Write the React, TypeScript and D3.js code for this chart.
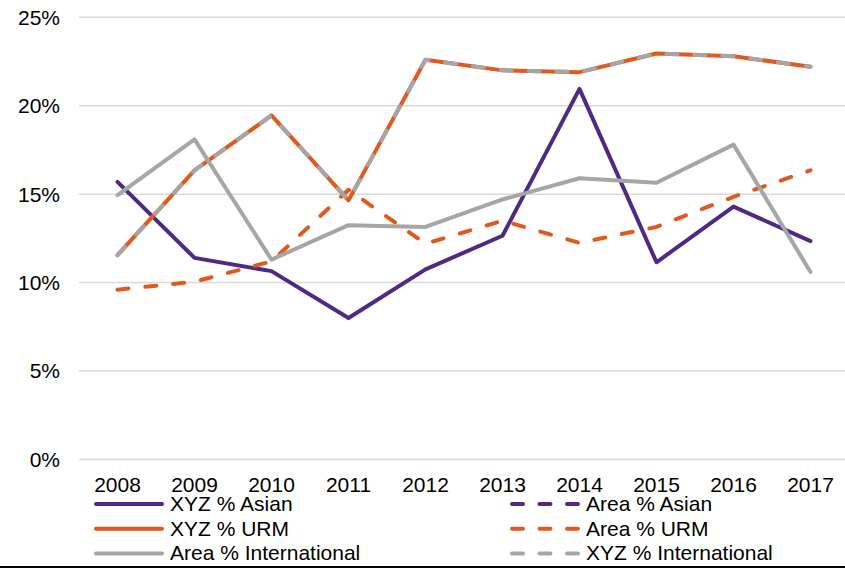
import React, { useEffect, useRef } from 'react';
import * as d3 from 'd3';

const years = ['2008', '2009', '2010', '2011', '2012', '2013', '2014', '2015', '2016', '2017'];
const yTicks = [0, 5, 10, 15, 20, 25];

const xyzAsian = [15.7, 11.4, 10.65, 8.0, 10.75, 12.65, 20.95, 11.15, 14.3, 12.35];
const areaAsian: (number | null)[] = [null, null, null, null, null, null, null, null, null, null];
const xyzUrm = [11.55, 16.35, 19.45, 14.65, 22.6, 22.0, 21.9, 22.95, 22.8, 22.2];
const areaUrm = [9.6, 10.05, 11.2, 15.25, 12.2, 13.5, 12.25, 13.15, 14.85, 16.35];
const areaIntl = [14.95, 18.1, 11.3, 13.25, 13.15, 14.7, 15.9, 15.65, 17.8, 10.6];
const xyzIntl = [11.55, 16.35, 19.45, 14.65, 22.6, 22.0, 21.9, 22.95, 22.8, 22.2];

const PURPLE = '#4e2a84';
const ORANGE = '#e05a1e';
const GRAY = '#a6a6a6';

const series = [
  { name: 'XYZ % Asian', values: xyzAsian, color: PURPLE, dashed: false },
  { name: 'Area % Asian', values: areaAsian, color: PURPLE, dashed: true },
  { name: 'XYZ % URM', values: xyzUrm, color: ORANGE, dashed: false },
  { name: 'Area % URM', values: areaUrm, color: ORANGE, dashed: true },
  { name: 'Area % International', values: areaIntl, color: GRAY, dashed: false },
  { name: 'XYZ % International', values: xyzIntl, color: GRAY, dashed: true },
];

const W = 845;
const H = 569;
const FONT = '"Liberation Sans", Arial, sans-serif';

const App = () => {
  const svgRef = useRef(null);

  useEffect(() => {
    const svg = d3.select(svgRef.current);
    svg.selectAll('*').remove();

    const margin = { top: 17.3, left: 79, right: -4, bottom: 109.5 };
    const x = d3.scaleBand().domain(years).range([margin.left, W - margin.right]);
    const y = d3.scaleLinear().domain([0, 25]).range([H - margin.bottom, margin.top]);

    // gridlines + y labels
    const grid = svg.append('g');
    grid.selectAll('line')
      .data(yTicks)
      .join('line')
      .attr('x1', margin.left)
      .attr('x2', W)
      .attr('y1', d => y(d))
      .attr('y2', d => y(d))
      .attr('stroke', '#d9d9d9')
      .attr('stroke-width', 1.5);
    grid.selectAll('text')
      .data(yTicks)
      .join('text')
      .attr('x', 60)
      .attr('y', d => y(d))
      .attr('dy', '0.35em')
      .attr('text-anchor', 'end')
      .style('font-family', FONT)
      .style('font-size', '21px')
      .style('fill', '#000')
      .text(d => `${d}%`);

    // x labels
    svg.append('g')
      .selectAll('text')
      .data(years)
      .join('text')
      .attr('x', d => x(d) + x.bandwidth() / 2)
      .attr('y', 492)
      .attr('text-anchor', 'middle')
      .style('font-family', FONT)
      .style('font-size', '21px')
      .style('fill', '#000')
      .text(d => d);

    // lines
    const line = d3.line<number | null>()
      .defined(d => d != null)
      .x((_, i) => x(years[i]) + x.bandwidth() / 2)
      .y(d => y(d as number));

    svg.append('g')
      .selectAll('path')
      .data(series)
      .join('path')
      .attr('d', d => line(d.values))
      .attr('fill', 'none')
      .attr('stroke', d => d.color)
      .attr('stroke-width', 4)
      .attr('stroke-linejoin', 'round')
      .attr('stroke-linecap', 'round')
      .attr('stroke-dasharray', d => (d.dashed ? '11 17' : null));

    // legend, two columns
    const legend = svg.append('g');
    const items = legend.selectAll('g')
      .data(series)
      .join('g')
      .attr('transform', (d, i) => `translate(${i % 2 === 0 ? 94 : 510}, ${504 + Math.floor(i / 2) * 24.7})`);
    items.append('line')
      .attr('x1', 2)
      .attr('x2', 68)
      .attr('stroke', d => d.color)
      .attr('stroke-width', 4)
      .attr('stroke-linecap', 'round')
      .attr('stroke-dasharray', d => (d.dashed ? '11 16.5' : null));
    items.append('text')
      .attr('x', 76)
      .attr('y', 7)
      .style('font-family', FONT)
      .style('font-size', '21px')
      .style('fill', '#000')
      .text(d => d.name);

    // bottom rule
    svg.append('line')
      .attr('x1', 0)
      .attr('x2', W)
      .attr('y1', 567)
      .attr('y2', 567)
      .attr('stroke', '#000')
      .attr('stroke-width', 2);
  }, []);

  return (
    <svg
      ref={svgRef}
      width={W}
      height={H}
      style={{ position: 'absolute', left: 0, top: 0, background: '#fff' }}
    />
  );
};

export default App;
